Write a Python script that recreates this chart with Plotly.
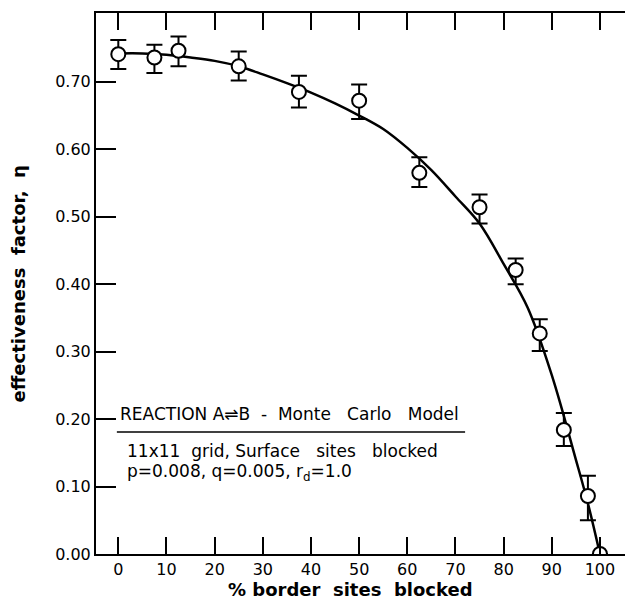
import plotly.graph_objects as go

# Monte Carlo points: percent of border sites blocked vs effectiveness factor
blocked_pct = [0, 7.5, 12.5, 25, 37.5, 50, 62.5, 75, 82.5, 87.5, 92.5, 97.5, 100]
eta = [0.741, 0.736, 0.746, 0.723, 0.685, 0.672, 0.565, 0.514, 0.421, 0.327, 0.184, 0.086, 0.0]
eta_upper = [0.762, 0.755, 0.767, 0.745, 0.709, 0.696, 0.588, 0.533, 0.438, 0.348, 0.209, 0.116, 0.0]
eta_lower = [0.719, 0.713, 0.723, 0.702, 0.662, 0.645, 0.544, 0.490, 0.400, 0.301, 0.160, 0.050, 0.0]

# Smooth trend curve drawn through the points
curve_pct = [0, 5, 10, 15, 20, 25, 30, 35, 40, 45, 50, 55, 60, 65, 70, 75, 80, 85, 90, 95, 97.5, 100]
curve_eta = [0.742, 0.742, 0.740, 0.736, 0.731, 0.723, 0.711, 0.698, 0.684, 0.668, 0.650, 0.630,
             0.602, 0.569, 0.530, 0.490, 0.430, 0.365, 0.265, 0.140, 0.075, 0.0]

x_ticks = [0, 10, 20, 30, 40, 50, 60, 70, 80, 90, 100]
y_ticks = [0.0, 0.1, 0.2, 0.3, 0.4, 0.5, 0.6, 0.7]
y_tick_labels = ["0.00", "0.10", "0.20", "0.30", "0.40", "0.50", "0.60", "0.70"]

err_plus = [u - v for u, v in zip(eta_upper, eta)]
err_minus = [v - l for v, l in zip(eta, eta_lower)]

FONT = "DejaVu Sans"
INK = "black"
NB = "\u00a0"

fig = go.Figure()

fig.add_trace(go.Scatter(
    x=curve_pct, y=curve_eta, mode="lines",
    line=dict(color=INK, width=2.5, shape="spline", smoothing=1.0),
    hoverinfo="skip", showlegend=False,
))

fig.add_trace(go.Scatter(
    x=blocked_pct, y=eta, mode="markers",
    marker=dict(symbol="circle", size=14, color="white", line=dict(color=INK, width=2)),
    error_y=dict(type="data", symmetric=False, array=err_plus, arrayminus=err_minus,
                 color=INK, thickness=2, width=8),
    showlegend=False,
))

axis_common = dict(showgrid=False, zeroline=False, showline=True, linecolor=INK, linewidth=2,
                   ticks="inside", tickcolor=INK, tickwidth=2)

fig.update_layout(
    width=625, height=608,
    margin=dict(l=96, r=0, t=13, b=54),
    paper_bgcolor="white", plot_bgcolor="white",
    font=dict(family=FONT, color=INK, size=15),
    xaxis=dict(range=[-4.63, 105.2], tickvals=x_ticks, ticklen=17, mirror="ticks",
               tickfont=dict(size=16), **axis_common),
    yaxis=dict(range=[0, 0.802], tickvals=y_ticks, ticktext=y_tick_labels, ticklen=20,
               tickfont=dict(size=16), **axis_common),
    yaxis2=dict(range=[0, 0.802], overlaying="y", side="right", tickvals=y_ticks[1:],
                showticklabels=False, showline=False, showgrid=False, zeroline=False,
                ticks="inside", ticklen=15, tickwidth=2, tickcolor=INK),
)

# Axis titles
fig.add_annotation(text=f"<b>%{NB}border{NB} sites{NB} blocked</b>", xref="x", yref="paper",
                   x=48.3, y=-0.066, showarrow=False, xanchor="center", yanchor="middle",
                   font=dict(size=18, family=FONT))
fig.add_annotation(text=f"<b>effectiveness{NB} factor,{NB} η</b>", xref="paper", yref="paper",
                   x=-0.1456, y=0.5, textangle=-90, showarrow=False,
                   xanchor="center", yanchor="middle", font=dict(size=18, family=FONT))

# Legend block
line1 = f"REACTION A⇌B {NB}-{NB} Monte{NB}{NB} Carlo{NB}{NB} Model"
line2 = f"11x11{NB} grid,{NB}Surface{NB}{NB} sites{NB}{NB} blocked"
line3 = "p=0.008, q=0.005, r<sub>d</sub>=1.0"
fig.add_annotation(text=line1, xref="x", yref="y", x=0, y=0.207,
                   showarrow=False, xanchor="left", yanchor="middle", font=dict(size=17))
fig.add_shape(type="line", xref="x", yref="y", x0=-0.3, x1=72, y0=0.181, y1=0.181,
              line=dict(color=INK, width=1.5))
fig.add_annotation(text=line2, xref="x", yref="y", x=1.4, y=0.153,
                   showarrow=False, xanchor="left", yanchor="middle", font=dict(size=17))
fig.add_annotation(text=line3, xref="x", yref="y", x=1.4, y=0.121,
                   showarrow=False, xanchor="left", yanchor="middle", font=dict(size=17))

fig.write_html("out.html")
